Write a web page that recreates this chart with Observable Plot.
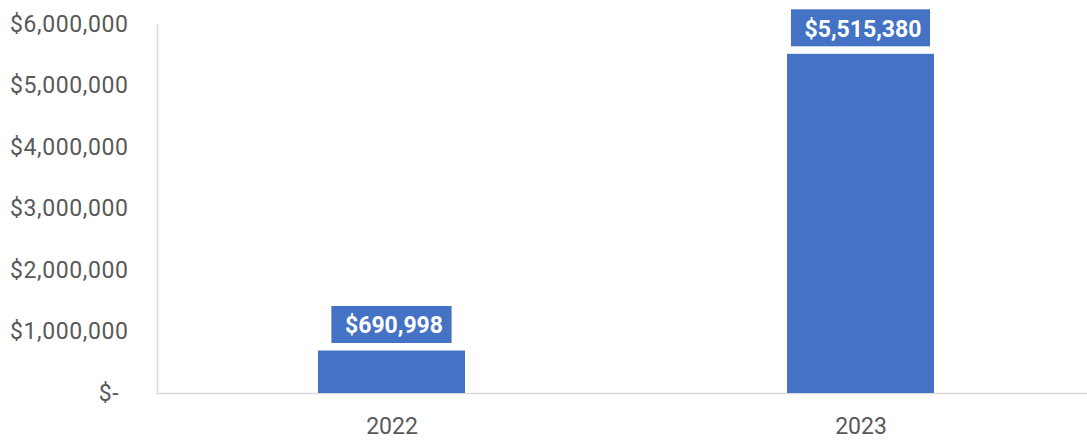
<!DOCTYPE html>
<html>
<head>
<meta charset="utf-8">
<script src="https://cdn.jsdelivr.net/npm/d3@7"></script>
<script src="https://cdn.jsdelivr.net/npm/@observablehq/plot@0.6"></script>
<style>
  html, body { margin: 0; padding: 0; background: #fff; }
  g[aria-label="y-axis tick label"] text { letter-spacing: 0.6px; }
</style>
</head>
<body>
<div id="chart"></div>
<script>
const years = ["2022", "2023"];
const revenue = [690998, 5515380];
const yTicks = [0, 1000000, 2000000, 3000000, 4000000, 5000000, 6000000];

const data = years.map((y, i) => ({year: y, value: revenue[i]}));
const fmtMoney = d => d === 0 ? "$-\u00a0\u200a" : "$" + d3.format(",")(d);

const xRange = [157, 1095], pIn = 0.687, pOut = 0.3435;
const xOpts = {domain: years, paddingInner: pIn, paddingOuter: pOut, range: xRange, label: null};
const bandwidth = d3.scaleBand().domain(years).range(xRange).paddingInner(pIn).paddingOuter(pOut).bandwidth();

// measure label text widths to size the label boxes
const ctx = document.createElement("canvas").getContext("2d");
ctx.font = "bold 23px Roboto";
const boxMarks = data.map(d => {
  const w = ctx.measureText(fmtMoney(d.value)).width + 22;
  const inset = Math.max(0, (bandwidth - w) / 2);
  return Plot.barY([d], {x: "year", y1: "value", y2: "value", fill: "#4472c4",
    insetTop: -44.5, insetBottom: 7.5, insetLeft: inset, insetRight: inset});
});

const plot = Plot.plot({
  width: 1087,
  height: 441,
  marginLeft: 157,
  marginRight: 0,
  marginTop: 24,
  marginBottom: 48,
  style: {fontFamily: "Roboto", fontSize: "23px", color: "#595959", background: "#fff"},
  x: xOpts,
  y: {domain: [0, 6000000], label: null},
  marks: [
    Plot.frame({anchor: "left", stroke: "#d9d9d9", strokeWidth: 1.5}),
    Plot.ruleY([0], {stroke: "#d9d9d9", strokeWidth: 1.5}),
    Plot.barY(data, {x: "year", y: "value", fill: "#4472c4"}),
    ...boxMarks,
    Plot.axisY(yTicks, {tickSize: 0, tickPadding: 29, tickFormat: fmtMoney, fontSize: 23, fill: "#595959", label: null}),
    Plot.axisX({tickSize: 0, tickPadding: 24, fontSize: 23, fill: "#595959", label: null}),
    Plot.text(data, {x: "year", y: "value", text: d => fmtMoney(d.value), dy: -25, dx: 2, fill: "white", fontWeight: "bold", fontSize: 23})
  ]
});
document.getElementById("chart").appendChild(plot);
</script>
</body>
</html>
